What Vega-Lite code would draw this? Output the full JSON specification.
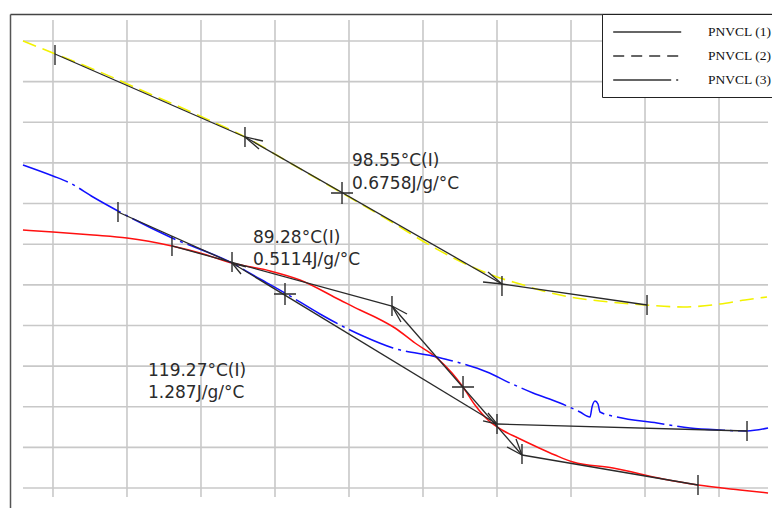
{
  "$schema": "https://vega.github.io/schema/vega-lite/v6.json",
  "width": 762,
  "height": 494,
  "autosize": "none",
  "padding": {"left": 10, "top": 14, "right": 0, "bottom": 0},
  "background": "white",
  "config": {"view": {"stroke": null}},
  "datasets": {
    "curves": [
      {"s": "PNVCL (1)", "T": 44.93, "v": -0.4651}, {"s": "PNVCL (1)", "T": 50.00, "v": -0.4700}, {"s": "PNVCL (1)", "T": 56.76, "v": -0.4774}, {"s": "PNVCL (1)", "T": 62.50, "v": -0.4847}, {"s": "PNVCL (1)", "T": 70.10, "v": -0.5044}, {"s": "PNVCL (1)", "T": 74.83, "v": -0.5216}, {"s": "PNVCL (1)", "T": 80.24, "v": -0.5463}, {"s": "PNVCL (1)", "T": 86.66, "v": -0.5659}, {"s": "PNVCL (1)", "T": 91.72, "v": -0.5881}, {"s": "PNVCL (1)", "T": 98.48, "v": -0.6373}, {"s": "PNVCL (1)", "T": 101.86, "v": -0.6619}, {"s": "PNVCL (1)", "T": 104.39, "v": -0.6791}, {"s": "PNVCL (1)", "T": 107.77, "v": -0.7062}, {"s": "PNVCL (1)", "T": 111.15, "v": -0.7431}, {"s": "PNVCL (1)", "T": 114.86, "v": -0.7800}, {"s": "PNVCL (1)", "T": 117.40, "v": -0.8169}, {"s": "PNVCL (1)", "T": 119.26, "v": -0.8514}, {"s": "PNVCL (1)", "T": 121.28, "v": -0.8957}, {"s": "PNVCL (1)", "T": 123.48, "v": -0.9326}, {"s": "PNVCL (1)", "T": 125.84, "v": -0.9572}, {"s": "PNVCL (1)", "T": 128.55, "v": -0.9769}, {"s": "PNVCL (1)", "T": 131.76, "v": -0.9990}, {"s": "PNVCL (1)", "T": 134.80, "v": -1.0187}, {"s": "PNVCL (1)", "T": 137.84, "v": -1.0359}, {"s": "PNVCL (1)", "T": 144.59, "v": -1.0507}, {"s": "PNVCL (1)", "T": 153.04, "v": -1.0777}, {"s": "PNVCL (1)", "T": 158.95, "v": -1.0925}, {"s": "PNVCL (1)", "T": 166.05, "v": -1.1048}, {"s": "PNVCL (1)", "T": 170.78, "v": -1.1122},
      {"s": "PNVCL (2)", "T": 44.93, "v": 0.0}, {"s": "PNVCL (2)", "T": 50.00, "v": -0.0295}, {"s": "PNVCL (2)", "T": 57.94, "v": -0.0763}, {"s": "PNVCL (2)", "T": 66.39, "v": -0.1304}, {"s": "PNVCL (2)", "T": 74.83, "v": -0.1845}, {"s": "PNVCL (2)", "T": 82.43, "v": -0.2362}, {"s": "PNVCL (2)", "T": 90.03, "v": -0.3002}, {"s": "PNVCL (2)", "T": 98.82, "v": -0.3740}, {"s": "PNVCL (2)", "T": 106.93, "v": -0.4429}, {"s": "PNVCL (2)", "T": 114.19, "v": -0.5069}, {"s": "PNVCL (2)", "T": 120.44, "v": -0.5536}, {"s": "PNVCL (2)", "T": 125.00, "v": -0.5807}, {"s": "PNVCL (2)", "T": 128.89, "v": -0.5980}, {"s": "PNVCL (2)", "T": 133.45, "v": -0.6176}, {"s": "PNVCL (2)", "T": 137.33, "v": -0.6299}, {"s": "PNVCL (2)", "T": 142.40, "v": -0.6398}, {"s": "PNVCL (2)", "T": 150.00, "v": -0.6496}, {"s": "PNVCL (2)", "T": 156.42, "v": -0.6545}, {"s": "PNVCL (2)", "T": 162.67, "v": -0.6471}, {"s": "PNVCL (2)", "T": 166.89, "v": -0.6373}, {"s": "PNVCL (2)", "T": 170.61, "v": -0.6299},
      {"s": "PNVCL (3)", "T": 44.93, "v": -0.3051}, {"s": "PNVCL (3)", "T": 50.00, "v": -0.3322}, {"s": "PNVCL (3)", "T": 52.87, "v": -0.3494}, {"s": "PNVCL (3)", "T": 56.76, "v": -0.3839}, {"s": "PNVCL (3)", "T": 60.98, "v": -0.4183}, {"s": "PNVCL (3)", "T": 69.76, "v": -0.4823}, {"s": "PNVCL (3)", "T": 80.24, "v": -0.5463}, {"s": "PNVCL (3)", "T": 84.97, "v": -0.5856}, {"s": "PNVCL (3)", "T": 89.19, "v": -0.6201}, {"s": "PNVCL (3)", "T": 95.10, "v": -0.6717}, {"s": "PNVCL (3)", "T": 100.17, "v": -0.7111}, {"s": "PNVCL (3)", "T": 102.36, "v": -0.7259}, {"s": "PNVCL (3)", "T": 107.43, "v": -0.7554}, {"s": "PNVCL (3)", "T": 114.86, "v": -0.7775}, {"s": "PNVCL (3)", "T": 118.75, "v": -0.7923}, {"s": "PNVCL (3)", "T": 123.31, "v": -0.8145}, {"s": "PNVCL (3)", "T": 127.20, "v": -0.8415}, {"s": "PNVCL (3)", "T": 131.08, "v": -0.8661}, {"s": "PNVCL (3)", "T": 135.64, "v": -0.8907}, {"s": "PNVCL (3)", "T": 139.02, "v": -0.9129}, {"s": "PNVCL (3)", "T": 140.71, "v": -0.9252}, {"s": "PNVCL (3)", "T": 141.05, "v": -0.9006}, {"s": "PNVCL (3)", "T": 141.56, "v": -0.8858}, {"s": "PNVCL (3)", "T": 142.06, "v": -0.8932}, {"s": "PNVCL (3)", "T": 142.40, "v": -0.9129}, {"s": "PNVCL (3)", "T": 145.27, "v": -0.9252}, {"s": "PNVCL (3)", "T": 152.03, "v": -0.9400}, {"s": "PNVCL (3)", "T": 157.60, "v": -0.9523}, {"s": "PNVCL (3)", "T": 162.67, "v": -0.9572}, {"s": "PNVCL (3)", "T": 167.23, "v": -0.9596}, {"s": "PNVCL (3)", "T": 170.78, "v": -0.9523}
    ],
    "segs": [
      {"x1": 50.34, "y1": -0.0320, "x2": 82.43, "y2": -0.2362},
      {"x1": 82.43, "y1": -0.2362, "x2": 125.84, "y2": -0.5979},
      {"x1": 125.84, "y1": -0.5979, "x2": 150.34, "y2": -0.6496},
      {"x1": 82.43, "y1": -0.2362, "x2": 85.47, "y2": -0.2461},
      {"x1": 82.43, "y1": -0.2362, "x2": 84.80, "y2": -0.2657},
      {"x1": 125.84, "y1": -0.5979, "x2": 122.64, "y2": -0.5930},
      {"x1": 125.84, "y1": -0.5979, "x2": 123.48, "y2": -0.5684},
      {"x1": 60.98, "y1": -0.4208, "x2": 80.24, "y2": -0.5463},
      {"x1": 80.24, "y1": -0.5463, "x2": 125.00, "y2": -0.9424},
      {"x1": 125.00, "y1": -0.9424, "x2": 167.23, "y2": -0.9596},
      {"x1": 80.24, "y1": -0.5463, "x2": 82.60, "y2": -0.5561},
      {"x1": 80.24, "y1": -0.5463, "x2": 81.76, "y2": -0.5733},
      {"x1": 125.00, "y1": -0.9424, "x2": 122.64, "y2": -0.9350},
      {"x1": 125.00, "y1": -0.9424, "x2": 123.48, "y2": -0.9154},
      {"x1": 70.10, "y1": -0.5044, "x2": 107.26, "y2": -0.6521},
      {"x1": 107.26, "y1": -0.6521, "x2": 129.22, "y2": -1.0187},
      {"x1": 129.22, "y1": -1.0187, "x2": 158.95, "y2": -1.0925},
      {"x1": 107.26, "y1": -0.6521, "x2": 109.80, "y2": -0.6717},
      {"x1": 107.26, "y1": -0.6521, "x2": 108.78, "y2": -0.6914},
      {"x1": 129.22, "y1": -1.0187, "x2": 126.69, "y2": -0.9990},
      {"x1": 129.22, "y1": -1.0187, "x2": 128.21, "y2": -0.9793}
    ],
    "ticks": [
      {"T": 50.34, "v": -0.0344}, {"T": 82.43, "v": -0.2362}, {"T": 125.84, "v": -0.6028}, {"T": 150.34, "v": -0.6496},
      {"T": 60.98, "v": -0.4208}, {"T": 80.24, "v": -0.5438}, {"T": 125.00, "v": -0.9424}, {"T": 167.23, "v": -0.9596},
      {"T": 70.10, "v": -0.5044}, {"T": 107.26, "v": -0.6521}, {"T": 129.22, "v": -1.0162}, {"T": 158.95, "v": -1.0925}
    ],
    "crosses": [
      {"T": 98.82, "v": -0.3740}, {"T": 89.19, "v": -0.6225}, {"T": 119.26, "v": -0.8514}
    ],
    "labels": [
      {"T": 100.51, "v": -0.2953, "text": "98.55°C(I)"},
      {"T": 100.51, "v": -0.3519, "text": "0.6758J/g/°C"},
      {"T": 83.78, "v": -0.4847, "text": "89.28°C(I)"},
      {"T": 83.78, "v": -0.5389, "text": "0.5114J/g/°C"},
      {"T": 66.05, "v": -0.8120, "text": "119.27°C(I)"},
      {"T": 66.05, "v": -0.8661, "text": "1.287J/g/°C"}
    ],
    "vgrid": [{"g": 50}, {"g": 62.5}, {"g": 75}, {"g": 87.5}, {"g": 100}, {"g": 112.5}, {"g": 125}, {"g": 137.5}, {"g": 150}, {"g": 162.5}],
    "hgrid": [{"g": 0}, {"g": -0.1}, {"g": -0.2}, {"g": -0.3}, {"g": -0.4}, {"g": -0.5}, {"g": -0.6}, {"g": -0.7}, {"g": -0.8}, {"g": -0.9}, {"g": -1.0}, {"g": -1.1}]
  },
  "layer": [
    {
      "data": {"name": "vgrid"},
      "mark": {"type": "rule", "color": "#c8c8c8", "strokeWidth": 1.6},
      "encoding": {
        "x": {"field": "g", "type": "quantitative", "scale": {"domain": [42.74, 171.45], "nice": false, "zero": false},
              "axis": {"orient": "top", "title": null, "labels": false, "ticks": false, "grid": false, "domain": true, "domainColor": "#444", "domainWidth": 1.5}},
        "y": {"datum": 0.0517, "type": "quantitative", "scale": {"domain": [-1.1491, 0.0664], "nice": false, "zero": false},
              "axis": {"orient": "left", "title": null, "labels": false, "ticks": false, "grid": false, "domain": true, "domainColor": "#555", "domainWidth": 1.5}},
        "y2": {"datum": -1.122}
      }
    },
    {
      "data": {"name": "hgrid"},
      "mark": {"type": "rule", "color": "#c8c8c8", "strokeWidth": 1.6},
      "encoding": {
        "y": {"field": "g", "type": "quantitative", "scale": {"domain": [-1.1491, 0.0664], "nice": false, "zero": false},
              "axis": {"orient": "left", "title": null, "labels": false, "ticks": false, "grid": false, "domain": true, "domainColor": "#555", "domainWidth": 1.5}},
        "x": {"datum": 44.93, "type": "quantitative", "scale": {"domain": [42.74, 171.45], "nice": false, "zero": false},
              "axis": {"orient": "top", "title": null, "labels": false, "ticks": false, "grid": false, "domain": true, "domainColor": "#444", "domainWidth": 1.5}},
        "x2": {"datum": 170.78}
      }
    },
    {
      "data": {"name": "curves"},
      "transform": [{"filter": "datum.s == 'PNVCL (1)'"}],
      "mark": {"type": "line", "strokeWidth": 1.5, "interpolate": "monotone", "color": "#ff1010"},
      "encoding": {
        "x": {"field": "T", "type": "quantitative", "scale": {"domain": [42.74, 171.45], "nice": false, "zero": false}},
        "y": {"field": "v", "type": "quantitative", "scale": {"domain": [-1.1491, 0.0664], "nice": false, "zero": false}}
      }
    },
    {
      "data": {"name": "curves"},
      "transform": [{"filter": "datum.s == 'PNVCL (2)'"}],
      "mark": {"type": "line", "strokeWidth": 1.6, "interpolate": "monotone", "color": "#f2f200", "strokeDash": [14, 7]},
      "encoding": {
        "x": {"field": "T", "type": "quantitative", "scale": {"domain": [42.74, 171.45], "nice": false, "zero": false}},
        "y": {"field": "v", "type": "quantitative", "scale": {"domain": [-1.1491, 0.0664], "nice": false, "zero": false}}
      }
    },
    {
      "data": {"name": "curves"},
      "transform": [{"filter": "datum.s == 'PNVCL (3)'"}],
      "mark": {"type": "line", "strokeWidth": 1.5, "interpolate": "monotone", "color": "#1010ff", "strokeDash": [48, 5, 3, 5]},
      "encoding": {
        "x": {"field": "T", "type": "quantitative", "scale": {"domain": [42.74, 171.45], "nice": false, "zero": false}},
        "y": {"field": "v", "type": "quantitative", "scale": {"domain": [-1.1491, 0.0664], "nice": false, "zero": false}}
      }
    },
    {
      "data": {"name": "curves"},
      "transform": [{"filter": "false"}],
      "mark": {"type": "line", "strokeWidth": 1.5, "color": "#333333"},
      "encoding": {
        "x": {"field": "T", "type": "quantitative", "scale": {"domain": [42.74, 171.45], "nice": false, "zero": false}},
        "y": {"field": "v", "type": "quantitative", "scale": {"domain": [-1.1491, 0.0664], "nice": false, "zero": false}},
        "strokeDash": {"field": "s", "type": "nominal",
          "scale": {"domain": ["PNVCL (1)", "PNVCL (2)", "PNVCL (3)"], "range": [[1, 0], [11, 7], [58, 5, 2, 5]]},
          "legend": {"orient": "none", "legendX": 592, "legendY": 0, "title": null, "symbolType": "M-1,0L9,0", "symbolSize": 185,
                     "symbolStrokeWidth": 1.5, "symbolStrokeColor": "#333333", "labelFont": "Liberation Serif", "labelFontSize": 13.5,
                     "labelColor": "#111", "labelOffset": 80, "rowPadding": 9, "padding": 10, "strokeColor": "#222",
                     "fillColor": "#ffffff", "cornerRadius": 0}}
      }
    },
    {
      "data": {"name": "segs"},
      "mark": {"type": "rule", "color": "#2a2a2a", "strokeWidth": 1.3},
      "encoding": {
        "x": {"field": "x1", "type": "quantitative", "scale": {"domain": [42.74, 171.45], "nice": false, "zero": false}},
        "y": {"field": "y1", "type": "quantitative", "scale": {"domain": [-1.1491, 0.0664], "nice": false, "zero": false}},
        "x2": {"field": "x2"},
        "y2": {"field": "y2"}
      }
    },
    {
      "data": {"name": "ticks"},
      "mark": {"type": "point", "shape": "M0,-1L0,1", "size": 400, "filled": false, "stroke": "#2a2a2a", "strokeWidth": 1.4, "opacity": 1},
      "encoding": {
        "x": {"field": "T", "type": "quantitative", "scale": {"domain": [42.74, 171.45], "nice": false, "zero": false}},
        "y": {"field": "v", "type": "quantitative", "scale": {"domain": [-1.1491, 0.0664], "nice": false, "zero": false}}
      }
    },
    {
      "data": {"name": "crosses"},
      "mark": {"type": "point", "shape": "M-1,0L1,0M0,-1L0,1", "size": 484, "filled": false, "stroke": "#2a2a2a", "strokeWidth": 1.4, "opacity": 1},
      "encoding": {
        "x": {"field": "T", "type": "quantitative", "scale": {"domain": [42.74, 171.45], "nice": false, "zero": false}},
        "y": {"field": "v", "type": "quantitative", "scale": {"domain": [-1.1491, 0.0664], "nice": false, "zero": false}}
      }
    },
    {
      "data": {"name": "labels"},
      "mark": {"type": "text", "align": "left", "baseline": "middle", "font": "DejaVu Sans", "fontSize": 17, "color": "#2b2b2b"},
      "encoding": {
        "x": {"field": "T", "type": "quantitative", "scale": {"domain": [42.74, 171.45], "nice": false, "zero": false}},
        "y": {"field": "v", "type": "quantitative", "scale": {"domain": [-1.1491, 0.0664], "nice": false, "zero": false}},
        "text": {"field": "text"}
      }
    }
  ]
}
